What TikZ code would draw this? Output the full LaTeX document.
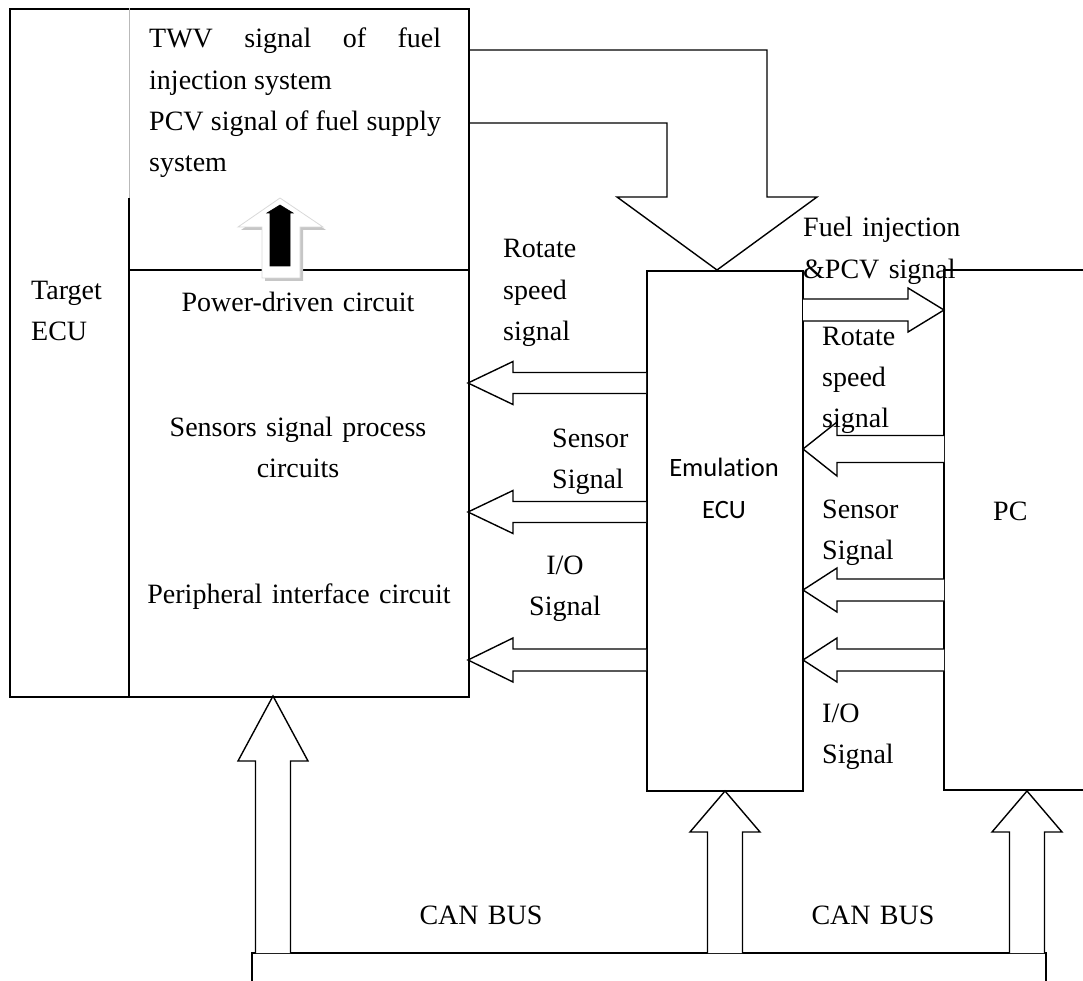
\documentclass[tikz,border=0pt]{standalone}
\usepackage{fontspec}
\setmainfont{Liberation Serif}
\newfontfamily\emufont[Ligatures=NoCommon]{Carlito}
\usepackage{tikz}
\usetikzlibrary{calc}
\newcommand{\labfont}{\fontsize{28}{41.3}\selectfont}
\newcommand{\nohyph}{\hyphenpenalty=10000\relax\exhyphenpenalty=10000\relax}
% block arrow: tail, tip, half shaft, half head, head length
\newcommand{\blockarrow}[5]{%
  \coordinate (bab) at ($(#2)!#5!(#1)$);
  \draw[blk] ($(#1)!#3!90:(#2)$) -- ($(bab)!#3!-90:(#1)$) -- ($(bab)!#4!-90:(#1)$)
    -- (#2) -- ($(bab)!#4!90:(#1)$) -- ($(bab)!#3!90:(#1)$) -- ($(#1)!#3!-90:(#2)$);
}
\tikzset{
  box/.style={draw=black, line width=1.6pt},
  blk/.style={draw=black, line width=1.4pt, fill=white, line join=miter},
  edgegray/.style={draw=gray!55, line width=0.6pt},
  lab/.style={inner sep=0pt, font=\labfont, text width=320pt, align=left},
  labc/.style={lab, align=center},
  emulab/.style={inner sep=0pt, font=\emufont\fontsize{26.5}{42}\selectfont, text width=160pt, align=center},
}

\begin{document}
\begin{tikzpicture}[x=1pt,y=-1pt]
  \useasboundingbox (0,0) rectangle (1083,981);

  % target ECU
  \node[box, minimum width=459pt, minimum height=688pt, anchor=north west] (tecu) at (9,8) {};
  \draw[edgegray] (129,8) -- (129,198);
  \draw[box] (129,198) -- (129,696);
  \draw[box] (129,270) -- (468,270);
  \node[lab, anchor=base west] (tecutxt) at (31,299) {Target\\ECU};
  \node[lab, text width=292pt, align=justify, font=\labfont\nohyph, anchor=base west] (twvtxt) at (149,48)
    {TWV signal of fuel injection system\par PCV signal of fuel supply system};
  \node[labc, anchor=base] (pwrtxt) at (298,312) {Power-driven circuit};
  \node[labc, anchor=base] (senstxt) at (298,436) {Sensors signal process\\circuits};
  \node[labc, anchor=base] (periftxt) at (299,603) {Peripheral interface circuit};

  % drive arrow
  \draw[fill=gray!45, draw=none] (283,201) -- (326,230) -- (303,230) -- (303,281) -- (265,281) -- (265,230) -- (241,230) -- cycle;
  \draw[fill=white, draw=gray!30, line width=0.8pt] (280,198) -- (323,227) -- (300,227) -- (300,278) -- (262,278) -- (262,227) -- (238,227) -- cycle;
  \draw[fill=black, draw=black, line width=0.6pt] (280,205) -- (293,213) -- (290,213) -- (290,266) -- (270,266) -- (270,213) -- (267,213) -- cycle;

  % emulation ECU
  \node[box, minimum width=156pt, minimum height=520pt, anchor=north west] (emu) at (646,270) {};
  \node[emulab, anchor=base] (emutxt) at (724,476) {Emulation\\ECU};

  % PC
  \draw[box] (1083,270) -- (944,270) -- (944,790) -- (1083,790);
  \node[lab, anchor=base west] (pctxt) at (993,520) {PC};

  % CAN bus
  \draw[box] (252,981) -- (252,953) -- (1046,953) -- (1046,981);
  \node[labc, text width=200pt, anchor=base] (can1) at (481,924) {CAN BUS};
  \node[labc, text width=200pt, anchor=base] (can2) at (873,924) {CAN BUS};

  % TWV / PCV signals to emulation ECU
  \coordinate (twvout) at (468,50);
  \coordinate (pcvout) at (468,123);
  \coordinate (emutop) at (717,270);
  \draw[blk, fill=none] (twvout) -- (767,50) -- (767,197) -- (817,197) -- (emutop)
    -- (617,197) -- (667,197) -- (667,123) -- (pcvout);

  % emulation ECU to target ECU
  \coordinate (rsE) at (646,383); \coordinate (rsT) at (468,383);
  \coordinate (ssE) at (646,512); \coordinate (ssT) at (468,512);
  \coordinate (ioE) at (646,660); \coordinate (ioT) at (468,660);
  \blockarrow{rsE}{rsT}{10.5pt}{21.5pt}{45pt}
  \blockarrow{ssE}{ssT}{10.5pt}{21.5pt}{45pt}
  \blockarrow{ioE}{ioT}{11pt}{22pt}{45pt}
  \node[lab, anchor=base west] (rslab) at (503,258) {Rotate\\speed\\signal};
  \node[lab, anchor=base west] (sslab) at (552,447) {Sensor\\Signal};
  \node[labc, text width=120pt, anchor=base] (iolab) at (565,574) {I/O\\Signal};

  % emulation ECU and PC
  \coordinate (fuE) at (803,310); \coordinate (fuP) at (944,310);
  \coordinate (rsP) at (944,449); \coordinate (rsR) at (803,449);
  \coordinate (ssP) at (944,590); \coordinate (ssR) at (803,590);
  \coordinate (ioP) at (944,660); \coordinate (ioR) at (803,660);
  \blockarrow{fuE}{fuP}{11pt}{22pt}{36pt}
  \blockarrow{rsP}{rsR}{13.5pt}{27pt}{34pt}
  \blockarrow{ssP}{ssR}{11pt}{22pt}{34pt}
  \blockarrow{ioP}{ioR}{11pt}{22pt}{34pt}
  \node[lab, anchor=base west] (fuellab) at (803,237) {Fuel injection\\\&PCV signal};
  \node[lab, anchor=base west] (rslabr) at (822,345) {Rotate\\speed\\signal};
  \node[lab, anchor=base west] (sslabr) at (822,518) {Sensor\\Signal};
  \node[lab, anchor=base west] (iolabr) at (822,722) {I/O\\Signal};

  % CAN bus to the units
  \coordinate (busT) at (273,953); \coordinate (tecuB) at (273,696);
  \coordinate (busE) at (725,953); \coordinate (emuB) at (725,791);
  \coordinate (busP) at (1027,953); \coordinate (pcB) at (1027,791);
  \blockarrow{busT}{tecuB}{17.5pt}{35pt}{65pt}
  \blockarrow{busE}{emuB}{17.5pt}{35pt}{41pt}
  \blockarrow{busP}{pcB}{17.5pt}{35pt}{41pt}
\end{tikzpicture}
\end{document}
